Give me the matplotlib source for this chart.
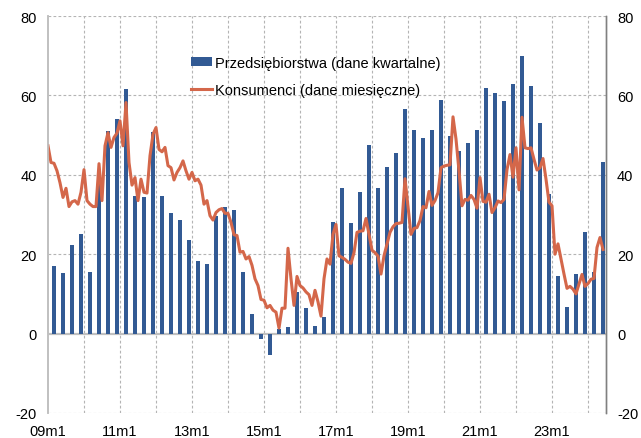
import matplotlib
matplotlib.use("Agg")
import matplotlib.pyplot as plt
import numpy as np

# Quarterly: enterprises (2009Q1 .. 2024Q2)
firms = [17.1, 15.2, 22.2, 25.0, 15.5, 38.0, 51.0, 54.0, 61.7, 34.6,
         34.5, 50.9, 34.7, 30.4, 28.5, 23.6, 18.2, 17.6, 29.5, 31.8,
         31.2, 15.5, 4.9, -1.4, -5.3, 1.1, 1.7, 10.4, 6.5, 1.8,
         4.1, 28.2, 36.6, 27.9, 35.7, 47.4, 36.7, 41.9, 45.4, 56.5,
         51.4, 49.2, 51.4, 58.8, 49.7, 46.0, 47.9, 51.3, 61.9, 60.6,
         58.6, 62.8, 70.0, 62.4, 53.1, 35.1, 14.4, 6.8, 14.9, 25.7,
         15.6, 43.3]

# Monthly: consumers (2009m1 .. 2024m6)
consumers = [47.3, 43.1, 42.9, 41.0, 38.0, 34.3, 36.6, 32.0, 33.2, 33.5,
             32.6, 35.6, 41.3, 33.5, 32.6, 32.0, 32.0, 42.8, 33.5, 47.3,
             50.6, 46.9, 49.4, 50.5, 53.6, 47.3, 58.2, 43.1, 37.4, 39.3,
             33.5, 38.9, 35.6, 35.4, 44.8, 50.2, 51.9, 46.4, 45.8, 46.9,
             42.3, 41.8, 38.7, 40.6, 41.8, 43.5, 41.0, 38.9, 40.6, 38.5,
             38.9, 37.4, 32.6, 33.5, 29.7, 28.6, 30.5, 31.2, 31.5, 30.3,
             30.3, 28.0, 24.9, 24.7, 20.5, 20.7, 18.8, 19.4, 17.2, 13.8,
             12.1, 8.6, 8.4, 6.5, 7.1, 5.9, 5.4, 1.4, 6.4, 6.4,
             21.5, 13.8, 7.1, 14.4, 12.1, 11.5, 10.5, 9.8, 7.1, 10.9,
             8.0, 4.4, 13.8, 18.8, 17.5, 25.0, 27.5, 19.6, 19.2, 18.7,
             18.0, 17.7, 20.4, 25.5, 25.8, 25.9, 29.0, 25.0, 21.0, 20.4,
             19.5, 15.0, 19.6, 22.5, 25.5, 26.9, 27.7, 27.8, 28.0, 39.0,
             32.0, 25.0, 26.5, 26.7, 28.5, 32.0, 31.7, 35.8, 32.3, 33.5,
             35.5, 41.8, 42.2, 42.4, 42.5, 54.6, 49.0, 41.0, 32.2, 33.8,
             33.6, 34.8, 33.8, 31.6, 39.3, 33.3, 33.1, 35.1, 30.5, 31.7,
             33.4, 33.0, 33.8, 41.3, 45.1, 39.4, 46.8, 36.2, 54.5, 46.8,
             46.6, 46.8, 43.9, 41.2, 41.8, 44.1, 38.9, 33.1, 32.2, 20.0,
             22.6, 18.8, 15.0, 11.4, 11.9, 11.2, 10.0, 12.5, 14.9, 11.9,
             12.6, 13.7, 13.9, 21.7, 24.2, 21.2]

xlabels = ["09m1", "11m1", "13m1", "15m1", "17m1", "19m1", "21m1", "23m1"]
yticks = [-20, 0, 20, 40, 60, 80]

plt.rcParams['font.family'] = ['Liberation Sans', 'DejaVu Sans']

fig = plt.figure(figsize=(6.41, 4.39), dpi=100)
ax = fig.add_axes([48/641, 25/439, 558/641, 397/439])

n_m = len(consumers)
months = np.arange(n_m)
qx = np.arange(len(firms)) * 3 + 2

blue = "#325A94"
red = "#D4674A"

bars = ax.bar(qx, firms, width=1.35, color=blue, zorder=3,
              label="Przedsiębiorstwa (dane kwartalne)")
line, = ax.plot(months, consumers, color=red, lw=2.2, zorder=4,
                label="Konsumenci (dane miesięczne)")

ax.set_xlim(0, n_m)
ax.set_ylim(-20, 80)

# grid
gc = "#B4B4B4"
for yv in [20, 40, 60, 80, -20]:
    ax.axhline(yv, color=gc, lw=0.8, ls=(0, (2.5, 2)), zorder=1)
for xv in range(12, n_m, 12):
    ax.axvline(xv, color=gc, lw=0.8, ls=(0, (2.5, 2)), zorder=1)
ax.axhline(0, color="#C0C0C0", lw=1.6, zorder=2)

ax.set_xticks(np.arange(0, 24 * len(xlabels), 24))
ax.set_xticklabels(xlabels, fontsize=10.5)
ax.tick_params(axis='x', length=0, pad=8)
ax.set_yticks(yticks)
ax.set_yticklabels([str(v) for v in yticks], fontsize=10.5)
ax.tick_params(axis='y', length=0, pad=8)

ax2 = ax.twinx()
ax2.set_ylim(-20, 80)
ax2.set_yticks(yticks)
ax2.set_yticklabels([str(v) for v in yticks], fontsize=10.5)
ax2.tick_params(axis='y', length=0, pad=8)

for a in (ax, ax2):
    a.spines['top'].set_visible(False)
    a.spines['bottom'].set_visible(False)
    a.spines['left'].set_color("#C0C0C0")
    a.spines['left'].set_linewidth(1.2)
    a.spines['right'].set_color("#808080")
    a.spines['right'].set_linewidth(1.0)

leg = ax.legend([bars, line],
                ["Przedsiębiorstwa (dane kwartalne)", "Konsumenci (dane miesięczne)"],
                loc="upper left", bbox_to_anchor=(0.245, 0.915),
                frameon=False, fontsize=10.5, handlelength=1.5,
                handleheight=0.5,
                handletextpad=0.15, labelspacing=0.9, borderaxespad=0)

fig.savefig("out.png", dpi=100)
